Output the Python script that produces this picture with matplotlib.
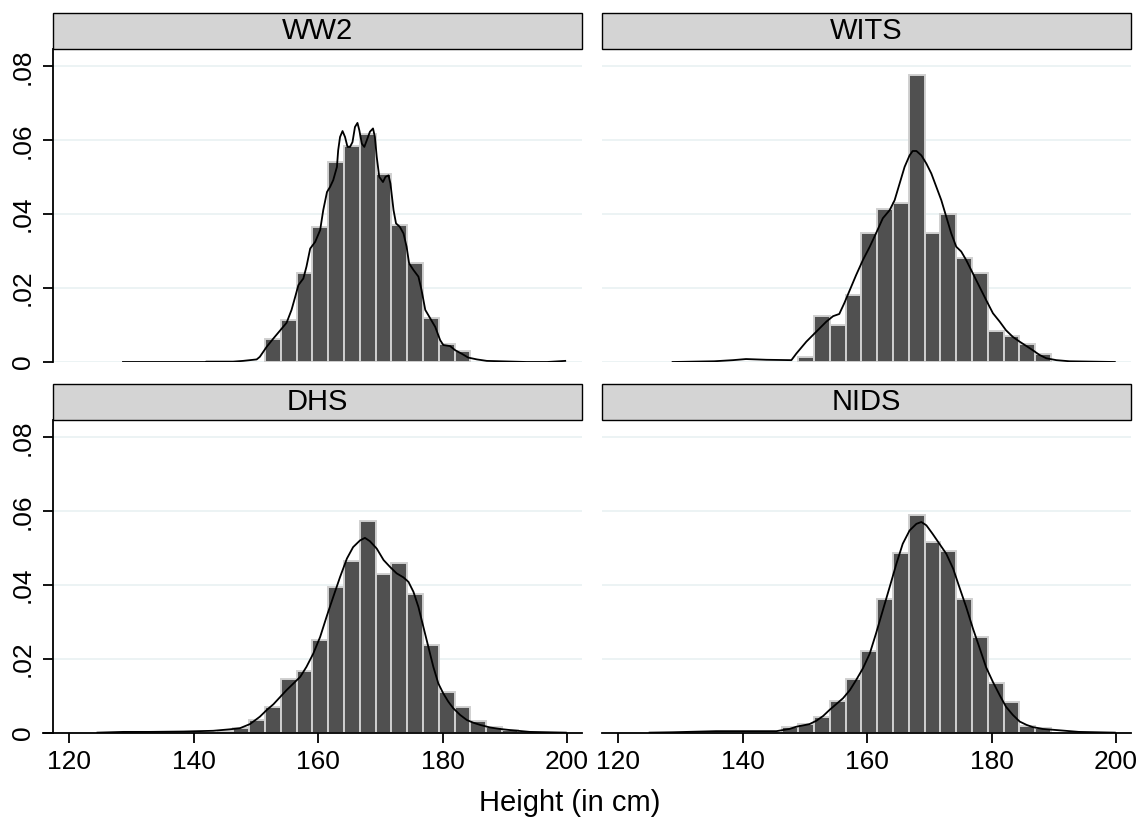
import matplotlib.pyplot as plt
from matplotlib.patches import Rectangle
from matplotlib.lines import Line2D

plt.rcParams['font.family'] = ['Liberation Sans', 'DejaVu Sans']

# histogram bins (cm), same for all four surveys
bin_start = 143.82
bin_width = 2.54

panels = ['WW2', 'WITS', 'DHS', 'NIDS']

# bar heights (density), bin by bin from bin_start
ww2_bars = [0, 0, 0, 0.0061, 0.0114, 0.0242, 0.0366, 0.0541, 0.0584, 0.0618,
            0.0508, 0.0370, 0.0269, 0.0120, 0.0048, 0.0031]
wits_bars = [0, 0, 0.0013, 0.0124, 0.0100, 0.0181, 0.0350, 0.0415, 0.0429, 0.0776,
             0.0350, 0.0400, 0.0282, 0.0242, 0.0085, 0.0070, 0.0048, 0.0021]
dhs_bars = [0.0005, 0.0013, 0.0035, 0.0071, 0.0146, 0.0168, 0.0251, 0.0394, 0.0465,
            0.0573, 0.0430, 0.0459, 0.0375, 0.0238, 0.0110, 0.0071, 0.0033, 0.0015, 0.0009]
nids_bars = [0, 0.0015, 0.0024, 0.0044, 0.0086, 0.0146, 0.0223, 0.0362, 0.0486, 0.0589,
             0.0517, 0.0493, 0.0362, 0.0260, 0.0134, 0.0085, 0.0020, 0.0014]

# kernel density lines
ww2_kx = [128.6, 141.8, 142.0, 146.3, 147.9, 150.1, 150.6, 151.7, 152.8, 153.9, 154.9,
          155.7, 156.3, 156.8, 157.6, 158.1, 158.7, 159.5, 160.3, 160.8, 161.4, 161.9,
          162.4, 163.0, 163.2, 163.5, 163.9, 164.3, 164.7, 165.1, 165.5, 165.9, 166.3,
          166.6, 167.0, 167.4, 167.8, 168.3, 168.8, 169.1, 169.4, 169.8, 170.4, 170.8,
          171.3, 171.6, 172.1, 172.5, 173.1, 173.7, 174.2, 174.6, 175.3, 176.1, 176.6,
          177.2, 178.0, 178.8, 179.6, 180.1, 181.2, 182.0, 183.1, 184.1, 185.5, 187.1,
          193.5, 196.8, 199.7]
ww2_ky = [0.0, 0.0, 0.0001, 0.0001, 0.0003, 0.0007, 0.0014, 0.0041, 0.0064, 0.0086, 0.0106,
          0.0141, 0.0177, 0.0208, 0.0226, 0.0258, 0.0307, 0.0325, 0.0357, 0.0411, 0.0460, 0.0474,
          0.0492, 0.0528, 0.0573, 0.0609, 0.0625, 0.0609, 0.0582, 0.0582, 0.0595, 0.0636, 0.0647,
          0.0627, 0.0591, 0.0582, 0.0600, 0.0623, 0.0632, 0.0609, 0.0555, 0.0501, 0.0487, 0.0501,
          0.0505, 0.0483, 0.0411, 0.0375, 0.0366, 0.0348, 0.0312, 0.0267, 0.0249, 0.0231, 0.0195,
          0.0141, 0.0118, 0.0095, 0.0059, 0.0046, 0.0043, 0.0032, 0.0022, 0.0012, 0.0007, 0.0003,
          0.0, 0.0, 0.0003]

wits_kx = [128.7, 135.4, 138.4, 140.5, 143.8, 147.8, 148.6, 150.2, 151.8, 153.4, 154.5,
           155.5, 156.3, 157.2, 158.2, 159.3, 160.4, 161.4, 162.5, 163.6, 164.4, 165.2,
           166.0, 166.8, 167.3, 167.9, 168.7, 169.5, 170.3, 171.1, 171.9, 172.7, 173.5,
           174.3, 175.1, 175.9, 176.7, 177.5, 178.3, 179.1, 180.2, 181.3, 182.3, 183.4,
           184.5, 185.6, 186.6, 187.7, 188.8, 190.4, 192.5, 199.8]
wits_ky = [0.0, 0.0002, 0.0005, 0.0008, 0.0006, 0.0005, 0.0023, 0.0055, 0.0082, 0.0109, 0.0124,
           0.0130, 0.0159, 0.0195, 0.0235, 0.0276, 0.0312, 0.0348, 0.0389, 0.0411, 0.0438, 0.0483,
           0.0528, 0.0559, 0.0571, 0.0571, 0.0559, 0.0537, 0.0510, 0.0474, 0.0438, 0.0393, 0.0348,
           0.0312, 0.0299, 0.0276, 0.0249, 0.0222, 0.0195, 0.0168, 0.0132, 0.0109, 0.0086, 0.0068,
           0.0055, 0.0043, 0.0032, 0.0019, 0.0010, 0.0005, 0.0002, 0.0]

dhs_kx = [124.5, 128.7, 132.9, 138.3, 143.1, 145.8, 147.4, 149.0, 150.6, 151.7, 152.8,
          153.9, 154.9, 156.0, 157.1, 158.1, 159.2, 160.3, 161.4, 162.4, 163.5, 164.6,
          165.6, 166.7, 167.5, 168.3, 169.4, 170.5, 171.5, 172.6, 173.7, 174.5, 175.3,
          176.1, 176.9, 177.7, 178.5, 179.3, 180.1, 180.9, 181.7, 182.8, 183.9, 184.9,
          186.0, 187.6, 189.2, 190.8, 194.0, 199.8]
dhs_ky = [0.0001, 0.0003, 0.0003, 0.0004, 0.0006, 0.0010, 0.0013, 0.0024, 0.0044, 0.0062, 0.0078,
          0.0098, 0.0116, 0.0134, 0.0152, 0.0179, 0.0215, 0.0260, 0.0318, 0.0368, 0.0422, 0.0472,
          0.0503, 0.0521, 0.0528, 0.0519, 0.0499, 0.0468, 0.0450, 0.0432, 0.0421, 0.0409, 0.0382,
          0.0341, 0.0287, 0.0233, 0.0179, 0.0134, 0.0107, 0.0085, 0.0067, 0.0049, 0.0035, 0.0028,
          0.0022, 0.0015, 0.0011, 0.0008, 0.0003, 0.0001]

nids_kx = [125.0, 128.7, 135.7, 141.1, 145.4, 147.5, 148.6, 150.7, 151.8, 152.9, 153.9,
           155.0, 156.1, 157.2, 158.2, 159.3, 160.4, 161.4, 162.5, 163.6, 164.7, 165.7,
           166.8, 167.9, 168.7, 169.5, 170.5, 171.6, 172.7, 173.8, 174.8, 175.9, 177.0,
           178.1, 179.1, 180.2, 181.3, 182.3, 183.4, 184.5, 185.6, 186.6, 188.2, 190.4,
           194.0, 199.8]
nids_ky = [0.0001, 0.0002, 0.0005, 0.0005, 0.0005, 0.0011, 0.0017, 0.0024, 0.0033, 0.0046, 0.0062,
           0.0078, 0.0094, 0.0116, 0.0143, 0.0175, 0.0215, 0.0269, 0.0332, 0.0395, 0.0459, 0.0512,
           0.0548, 0.0566, 0.0571, 0.0562, 0.0539, 0.0512, 0.0485, 0.0445, 0.0395, 0.0341, 0.0282,
           0.0228, 0.0178, 0.0138, 0.0102, 0.0071, 0.0049, 0.0031, 0.0022, 0.0016, 0.0011, 0.0008,
           0.0003, 0.0001]

bars = [ww2_bars, wits_bars, dhs_bars, nids_bars]
kde_x = [ww2_kx, wits_kx, dhs_kx, nids_kx]
kde_y = [ww2_ky, wits_ky, dhs_ky, nids_ky]

y_ticks = [0, 0.02, 0.04, 0.06, 0.08]
x_ticks = [120, 140, 160, 180, 200]

W, H = 1145, 821
fig = plt.figure(figsize=(W / 100, H / 100), dpi=100)

# panel boxes in pixels: left, top, width, height
boxes = [(53, 49), (602, 49), (53, 420), (602, 420)]
pw, ph = 529, 313
hdr = 36

for i, name in enumerate(panels):
    px, py = boxes[i]
    ax = fig.add_axes([px / W, 1 - (py + ph) / H, pw / W, ph / H])

    edges = [bin_start + k * bin_width for k in range(len(bars[i]))]
    e = [x for x, h in zip(edges, bars[i]) if h > 0]
    h = [h for h in bars[i] if h > 0]
    ax.bar(e, h, width=bin_width, align='edge', color='#505050',
           edgecolor='#d0d0d0', linewidth=1.4, zorder=2)
    ax.plot(kde_x[i], kde_y[i], color='black', lw=1.3, zorder=3)

    ax.set_xlim(117.35, 202.4)
    ax.set_ylim(0, 0.0847)
    ax.set_yticks(y_ticks)
    ax.set_yticklabels(['0' if v == 0 else f'{v:.2f}'.lstrip('0') for v in y_ticks],
                       rotation=90, va='center', fontsize=19)
    ax.set_xticks(x_ticks)
    ax.set_xticklabels([str(v) for v in x_ticks], fontsize=19)
    ax.yaxis.grid(True, color='#e9f1f2', lw=1.2)
    ax.set_axisbelow(True)

    for s in ['top', 'right']:
        ax.spines[s].set_visible(False)
    ax.spines['left'].set_visible(i % 2 == 0)
    ax.spines['bottom'].set_visible(i >= 2)
    for s in ['left', 'bottom']:
        ax.spines[s].set_linewidth(1.3)
    ax.tick_params(axis='y', length=7, width=1.3, pad=6,
                   left=(i % 2 == 0), labelleft=(i % 2 == 0))
    ax.tick_params(axis='x', length=7, width=1.3, pad=5,
                   bottom=(i >= 2), labelbottom=(i >= 2))

    hh = hdr / ph
    ax.add_patch(Rectangle((0, 1), 1, hh, transform=ax.transAxes, facecolor='#d4d4d4',
                           edgecolor='black', lw=1.0, clip_on=False))
    ax.text(0.5, 1 + hh / 2, name, transform=ax.transAxes, ha='center', va='center',
            fontsize=21)

# x axis line of the bottom left panel runs a little past the y axis
fig.add_artist(Line2D([43 / W, 53 / W], [1 - 733 / H] * 2, color='black', lw=1.3))

fig.text(570 / W, 1 - 803 / H, 'Height (in cm)', ha='center', va='center', fontsize=21)

fig.savefig('out.png', dpi=100)
